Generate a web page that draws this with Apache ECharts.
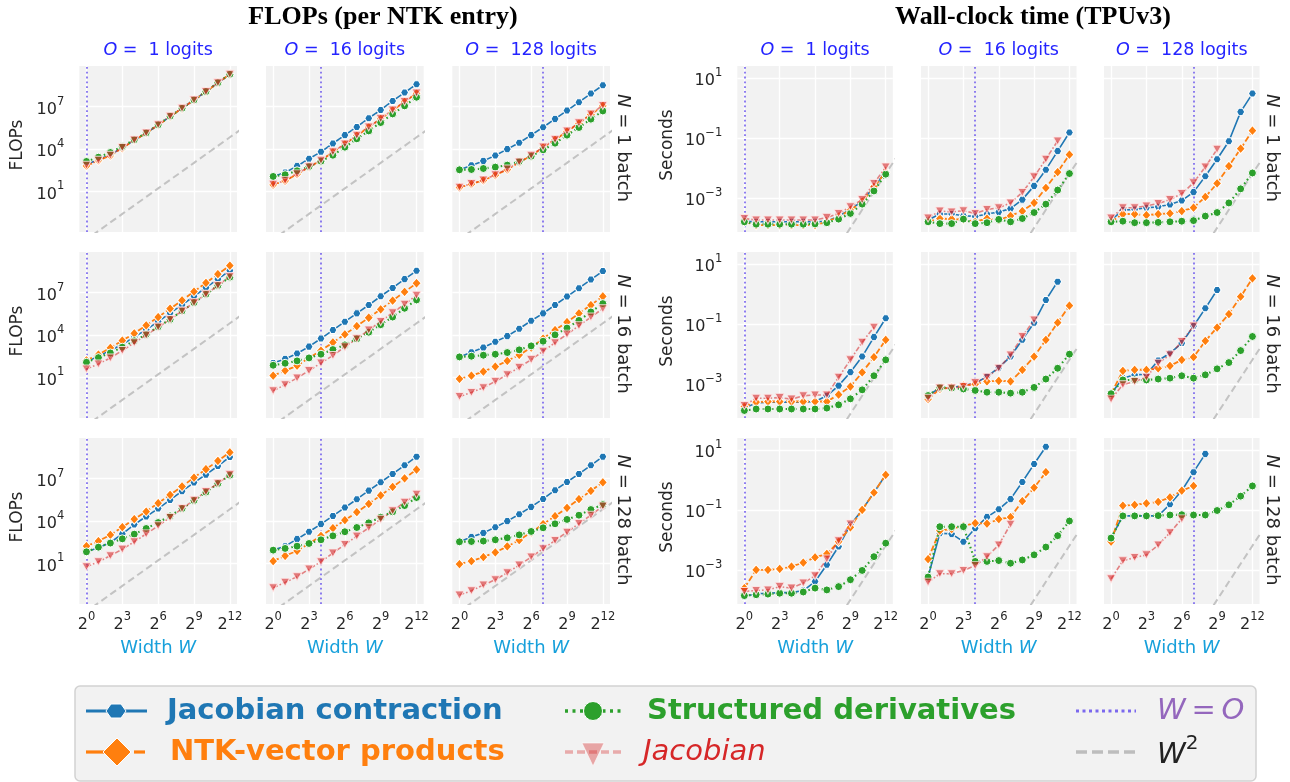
<!DOCTYPE html>
<html><head><meta charset="utf-8">
<script src="https://cdn.jsdelivr.net/npm/echarts@6/dist/echarts.min.js"></script>
<style>html,body{margin:0;padding:0;background:#fff}#c{width:1290px;height:782px}</style>
</head><body><div id="c"></div>
<script>
// ---------------- DATA ----------------
// Width W = 2^k for these exponents
const widthExponents = [0,1,2,3,4,5,6,7,8,9,10,11,12];
const logitCounts = [1, 16, 128];   // O (columns)
const batchSizes = [1, 16, 128];    // N (rows)
const xTickValues = [1, 8, 64, 512, 4096];
const flopsTickValues = [1e1, 1e4, 1e7];
const secondsTickValues = [1e-3, 1e-1, 1e1];
const seriesNames = ['Jacobian contraction', 'NTK-vector products', 'Structured derivatives', 'Jacobian'];

// FLOPs per NTK entry, log10 values
const flops_N1_O1_jacobianContraction   = [2.9, 3.25, 3.6, 4.1, 4.62, 5.13, 5.7, 6.3, 6.88, 7.47, 8.06, 8.69, 9.28];
const flops_N1_O1_ntkVectorProducts     = [2.81, 3.19, 3.54, 4.06, 4.62, 5.12, 5.69, 6.3, 6.87, 7.46, 8.05, 8.68, 9.28];
const flops_N1_O1_structuredDerivatives = [3.12, 3.42, 3.75, 4.18, 4.65, 5.14, 5.71, 6.32, 6.88, 7.47, 8.06, 8.69, 9.28];
const flops_N1_O1_jacobian              = [2.85, 3.2, 3.56, 4.1, 4.63, 5.13, 5.71, 6.32, 6.88, 7.47, 8.06, 8.69, 9.29];

const flops_N1_O16_jacobianContraction   = [2.06, 2.34, 2.79, 3.31, 3.8, 4.39, 4.98, 5.56, 6.18, 6.76, 7.4, 7.99, 8.58];
const flops_N1_O16_ntkVectorProducts     = [1.47, 1.75, 2.22, 2.72, 3.19, 3.78, 4.34, 4.95, 5.54, 6.13, 6.74, 7.33, 7.94];
const flops_N1_O16_structuredDerivatives = [2.06, 2.18, 2.46, 2.76, 3.14, 3.56, 4.13, 4.72, 5.28, 5.87, 6.48, 7.05, 7.66];
const flops_N1_O16_jacobian              = [1.5, 1.78, 2.24, 2.74, 3.2, 3.8, 4.36, 4.97, 5.56, 6.15, 6.76, 7.35, 7.96];

const flops_N1_O128_jacobianContraction   = [2.53, 2.84, 3.16, 3.54, 3.99, 4.44, 4.98, 5.54, 6.13, 6.72, 7.31, 7.92, 8.51];
const flops_N1_O128_ntkVectorProducts     = [1.28, 1.52, 1.78, 2.15, 2.55, 3.05, 3.52, 4.11, 4.65, 5.24, 5.82, 6.44, 7.05];
const flops_N1_O128_structuredDerivatives = [2.53, 2.55, 2.62, 2.72, 2.86, 3.12, 3.49, 3.94, 4.41, 4.98, 5.52, 6.11, 6.69];
const flops_N1_O128_jacobian              = [1.3, 1.55, 1.8, 2.18, 2.58, 3.08, 3.55, 4.14, 4.68, 5.27, 5.85, 6.47, 7.08];

const flops_N16_O1_jacobianContraction   = [2.1, 2.5, 2.9, 3.35, 3.85, 4.38, 4.95, 5.55, 6.13, 6.74, 7.35, 7.95, 8.55];
const flops_N16_O1_ntkVectorProducts     = [2.21, 2.62, 3.09, 3.61, 4.11, 4.68, 5.27, 5.86, 6.45, 7.07, 7.69, 8.3, 8.9];
const flops_N16_O1_structuredDerivatives = [2.07, 2.4, 2.73, 3.14, 3.59, 4.04, 4.58, 5.1, 5.7, 6.29, 6.88, 7.5, 8.09];
const flops_N16_O1_jacobian              = [1.6, 1.95, 2.38, 2.9, 3.45, 3.99, 4.56, 5.1, 5.7, 6.29, 6.88, 7.5, 8.14];

const flops_N16_O16_jacobianContraction   = [2.02, 2.31, 2.69, 3.18, 3.75, 4.35, 4.94, 5.53, 6.12, 6.74, 7.33, 7.95, 8.54];
const flops_N16_O16_ntkVectorProducts     = [1.12, 1.48, 1.83, 2.38, 2.9, 3.47, 4.04, 4.63, 5.22, 5.82, 6.43, 7.05, 7.66];
const flops_N16_O16_structuredDerivatives = [1.86, 2.0, 2.17, 2.38, 2.64, 2.97, 3.3, 3.73, 4.2, 4.73, 5.27, 5.89, 6.48];
const flops_N16_O16_jacobian              = [0.06, 0.48, 0.96, 1.48, 2.02, 2.55, 3.16, 3.73, 4.35, 4.96, 5.58, 6.17, 6.81];

const flops_N16_O128_jacobianContraction   = [2.45, 2.78, 3.11, 3.52, 3.92, 4.44, 5.01, 5.53, 6.12, 6.72, 7.31, 7.92, 8.52];
const flops_N16_O128_ntkVectorProducts     = [0.89, 1.12, 1.41, 1.76, 2.17, 2.59, 3.11, 3.75, 4.35, 4.91, 5.53, 6.12, 6.74];
const flops_N16_O128_structuredDerivatives = [2.45, 2.5, 2.57, 2.64, 2.76, 2.95, 3.23, 3.56, 4.01, 4.49, 5.03, 5.63, 6.22];
const flops_N16_O128_jacobian              = [-0.35, -0.06, 0.27, 0.72, 1.19, 1.71, 2.26, 2.85, 3.45, 4.06, 4.65, 5.27, 5.86];

const flops_N128_O1_jacobianContraction   = [1.82, 2.11, 2.48, 3.09, 3.75, 4.32, 4.88, 5.49, 6.11, 6.72, 7.28, 7.89, 8.53];
const flops_N128_O1_ntkVectorProducts     = [2.22, 2.58, 3.02, 3.56, 4.13, 4.67, 5.26, 5.85, 6.44, 7.07, 7.66, 8.25, 8.86];
const flops_N128_O1_structuredDerivatives = [1.82, 2.15, 2.44, 2.74, 3.07, 3.47, 3.89, 4.36, 4.88, 5.45, 6.04, 6.65, 7.24];
const flops_N128_O1_jacobian              = [0.76, 1.12, 1.54, 2.01, 2.53, 3.09, 3.66, 4.25, 4.88, 5.47, 6.08, 6.67, 7.28];

const flops_N128_O16_jacobianContraction   = [1.94, 2.22, 2.72, 3.24, 3.78, 4.36, 4.95, 5.54, 6.15, 6.74, 7.33, 7.94, 8.55];
const flops_N128_O16_ntkVectorProducts     = [1.16, 1.54, 1.89, 2.41, 2.95, 3.49, 4.06, 4.62, 5.21, 5.82, 6.41, 7.02, 7.64];
const flops_N128_O16_structuredDerivatives = [1.94, 2.06, 2.22, 2.41, 2.67, 2.95, 3.24, 3.54, 3.87, 4.27, 4.65, 5.09, 5.66];
const flops_N128_O16_jacobian              = [-0.72, -0.34, 0.06, 0.6, 1.12, 1.73, 2.34, 2.93, 3.52, 4.13, 4.72, 5.33, 5.89];

const flops_N128_O128_jacobianContraction   = [2.53, 2.86, 3.16, 3.56, 3.99, 4.48, 5.0, 5.56, 6.18, 6.76, 7.33, 7.94, 8.55];
const flops_N128_O128_ntkVectorProducts     = [0.95, 1.16, 1.45, 1.78, 2.2, 2.65, 3.19, 3.78, 4.34, 4.93, 5.54, 6.13, 6.74];
const flops_N128_O128_structuredDerivatives = [2.53, 2.55, 2.58, 2.67, 2.81, 3.02, 3.26, 3.52, 3.8, 4.11, 4.41, 4.81, 5.16];
const flops_N128_O128_jacobian              = [-1.24, -0.93, -0.53, -0.15, 0.34, 0.88, 1.45, 2.04, 2.62, 3.21, 3.82, 4.41, 5.05];

// Wall-clock seconds (TPUv3), log10 values; shorter arrays = runs that stopped early
const secs_N1_O1_jacobianContraction   = [-3.78, -3.8, -3.8, -3.8, -3.8, -3.8, -3.8, -3.78, -3.61, -3.39, -3.11, -2.63, -2.13];
const secs_N1_O1_ntkVectorProducts     = [-3.8, -3.91, -3.91, -3.91, -3.91, -3.91, -3.91, -3.8, -3.63, -3.41, -3.13, -2.63, -2.15];
const secs_N1_O1_structuredDerivatives = [-3.8, -3.88, -3.88, -3.88, -3.88, -3.88, -3.87, -3.83, -3.71, -3.52, -3.21, -2.77, -2.21];
const secs_N1_O1_jacobian              = [-3.69, -3.74, -3.74, -3.74, -3.74, -3.74, -3.74, -3.66, -3.52, -3.3, -3.06, -2.52, -1.97];

const secs_N1_O16_jacobianContraction   = [-3.74, -3.54, -3.54, -3.6, -3.62, -3.54, -3.47, -3.36, -3.06, -2.6, -2.06, -1.44, -0.82];
const secs_N1_O16_ntkVectorProducts     = [-3.8, -3.69, -3.71, -3.72, -3.8, -3.69, -3.74, -3.6, -3.44, -3.17, -2.67, -2.14, -1.56];
const secs_N1_O16_structuredDerivatives = [-3.8, -3.86, -3.86, -3.71, -3.86, -3.83, -3.72, -3.8, -3.69, -3.49, -3.21, -2.74, -2.19];
const secs_N1_O16_jacobian              = [-3.67, -3.44, -3.47, -3.43, -3.52, -3.39, -3.33, -3.17, -2.82, -2.3, -1.71, -1.1];

const secs_N1_O128_jacobianContraction   = [-3.74, -3.41, -3.39, -3.33, -3.3, -3.22, -3.09, -2.81, -2.28, -1.71, -1.11, -0.13, 0.48];
const secs_N1_O128_ntkVectorProducts     = [-3.8, -3.54, -3.54, -3.58, -3.54, -3.52, -3.44, -3.33, -2.97, -2.52, -1.94, -1.36, -0.76];
const secs_N1_O128_structuredDerivatives = [-3.8, -3.78, -3.83, -3.83, -3.82, -3.8, -3.78, -3.76, -3.61, -3.49, -3.17, -2.7, -2.17];
const secs_N1_O128_jacobian              = [-3.67, -3.33, -3.33, -3.27, -3.19, -3.06, -2.86, -2.5, -1.97, -1.38];

const secs_N16_O1_jacobianContraction   = [-3.81, -3.64, -3.61, -3.61, -3.61, -3.61, -3.59, -3.4, -3.06, -2.61, -2.09, -1.44, -0.81];
const secs_N16_O1_ntkVectorProducts     = [-3.76, -3.61, -3.59, -3.59, -3.59, -3.59, -3.59, -3.59, -3.36, -3.09, -2.62, -2.11, -1.53];
const secs_N16_O1_structuredDerivatives = [-3.89, -3.84, -3.84, -3.84, -3.84, -3.84, -3.84, -3.81, -3.7, -3.5, -3.2, -2.73, -2.2];
const secs_N16_O1_jacobian              = [-3.72, -3.48, -3.48, -3.46, -3.51, -3.4, -3.37, -3.37, -2.78, -2.2, -1.61, -1.11];

const secs_N16_O16_jacobianContraction   = [-3.39, -3.14, -3.12, -3.06, -2.98, -2.76, -2.46, -2.09, -1.53, -0.96, -0.2, 0.41];
const secs_N16_O16_ntkVectorProducts     = [-3.51, -3.17, -3.12, -3.06, -3.01, -2.92, -2.9, -2.92, -2.53, -2.09, -1.53, -0.96, -0.39];
const secs_N16_O16_structuredDerivatives = [-3.39, -3.12, -3.14, -3.17, -3.22, -3.28, -3.28, -3.31, -3.28, -3.12, -2.84, -2.48, -2.01];
const secs_N16_O16_jacobian              = [-3.48, -3.14, -3.14, -3.09, -2.96, -2.78, -2.48, -2.04, -1.42, -0.87];

const secs_N16_O128_jacobianContraction   = [-3.33, -2.81, -2.7, -2.68, -2.22, -1.98, -1.64, -1.07, -0.48, 0.13];
const secs_N16_O128_ntkVectorProducts     = [-3.33, -2.57, -2.53, -2.53, -2.48, -2.4, -2.2, -2.11, -1.57, -1.12, -0.67, -0.09, 0.52];
const secs_N16_O128_structuredDerivatives = [-3.33, -2.87, -2.87, -2.87, -2.84, -2.81, -2.73, -2.81, -2.7, -2.5, -2.29, -1.89, -1.42];
const secs_N16_O128_jacobian              = [-3.51, -3.03, -2.92, -2.78, -2.31, -2.03, -1.59, -1.07];

const secs_N128_O1_jacobianContraction   = [-3.89, -3.8, -3.78, -3.76, -3.76, -3.69, -3.39, -2.83, -2.22, -1.5, -1.0, -0.42, 0.17];
const secs_N128_O1_ntkVectorProducts     = [-3.61, -3.0, -3.0, -2.97, -2.89, -2.76, -2.58, -2.47, -2.06, -1.58, -1.0, -0.42, 0.17];
const secs_N128_O1_structuredDerivatives = [-3.86, -3.83, -3.81, -3.78, -3.78, -3.74, -3.61, -3.67, -3.56, -3.33, -3.02, -2.56, -2.11];
const secs_N128_O1_jacobian              = [-3.72, -3.69, -3.67, -3.56, -3.61, -3.44, -3.2, -2.64, -2.03, -1.47];

const secs_N128_O16_jacobianContraction   = [-3.24, -1.78, -1.8, -2.06, -1.61, -1.24, -0.98, -0.64, -0.07, 0.53, 1.11];
const secs_N128_O16_ntkVectorProducts     = [-2.64, -1.69, -1.64, -1.53, -1.44, -1.46, -1.31, -1.24, -0.71, -0.26, 0.26];
const secs_N128_O16_structuredDerivatives = [-3.24, -1.56, -1.56, -1.56, -2.72, -2.72, -2.69, -2.78, -2.67, -2.5, -2.24, -1.86, -1.37];
const secs_N128_O16_jacobian              = [-3.41, -3.13, -3.13, -3.02, -2.86, -2.56, -2.17, -1.48];

const secs_N128_O128_jacobianContraction   = [-1.94, -1.2, -1.2, -1.2, -1.2, -0.81, -0.36, 0.26, 0.87];
const secs_N128_O128_ntkVectorProducts     = [-2.06, -0.86, -0.83, -0.78, -0.73, -0.58, -0.36, -0.2];
const secs_N128_O128_structuredDerivatives = [-1.94, -1.2, -1.2, -1.2, -1.19, -1.17, -1.16, -1.17, -1.17, -1.02, -0.83, -0.54, -0.2];
const secs_N128_O128_jacobian              = [-3.3, -2.7, -2.59, -2.5, -2.17, -1.76, -1.3];

// W^2 reference line scale factors (per metric) and exponents over which it is drawn
const refLineExponents = [-1,0,1,2,3,4,5,6,7,8,9,10,11,12,13];
const flopsRefScale = 0.004;
const secsRefScale = 3.8e-10;

// ---------------- TABLES ----------------
const flopsTable = [
  [[flops_N1_O1_jacobianContraction, flops_N1_O1_ntkVectorProducts, flops_N1_O1_structuredDerivatives, flops_N1_O1_jacobian],
   [flops_N1_O16_jacobianContraction, flops_N1_O16_ntkVectorProducts, flops_N1_O16_structuredDerivatives, flops_N1_O16_jacobian],
   [flops_N1_O128_jacobianContraction, flops_N1_O128_ntkVectorProducts, flops_N1_O128_structuredDerivatives, flops_N1_O128_jacobian]],
  [[flops_N16_O1_jacobianContraction, flops_N16_O1_ntkVectorProducts, flops_N16_O1_structuredDerivatives, flops_N16_O1_jacobian],
   [flops_N16_O16_jacobianContraction, flops_N16_O16_ntkVectorProducts, flops_N16_O16_structuredDerivatives, flops_N16_O16_jacobian],
   [flops_N16_O128_jacobianContraction, flops_N16_O128_ntkVectorProducts, flops_N16_O128_structuredDerivatives, flops_N16_O128_jacobian]],
  [[flops_N128_O1_jacobianContraction, flops_N128_O1_ntkVectorProducts, flops_N128_O1_structuredDerivatives, flops_N128_O1_jacobian],
   [flops_N128_O16_jacobianContraction, flops_N128_O16_ntkVectorProducts, flops_N128_O16_structuredDerivatives, flops_N128_O16_jacobian],
   [flops_N128_O128_jacobianContraction, flops_N128_O128_ntkVectorProducts, flops_N128_O128_structuredDerivatives, flops_N128_O128_jacobian]]
];
const secsTable = [
  [[secs_N1_O1_jacobianContraction, secs_N1_O1_ntkVectorProducts, secs_N1_O1_structuredDerivatives, secs_N1_O1_jacobian],
   [secs_N1_O16_jacobianContraction, secs_N1_O16_ntkVectorProducts, secs_N1_O16_structuredDerivatives, secs_N1_O16_jacobian],
   [secs_N1_O128_jacobianContraction, secs_N1_O128_ntkVectorProducts, secs_N1_O128_structuredDerivatives, secs_N1_O128_jacobian]],
  [[secs_N16_O1_jacobianContraction, secs_N16_O1_ntkVectorProducts, secs_N16_O1_structuredDerivatives, secs_N16_O1_jacobian],
   [secs_N16_O16_jacobianContraction, secs_N16_O16_ntkVectorProducts, secs_N16_O16_structuredDerivatives, secs_N16_O16_jacobian],
   [secs_N16_O128_jacobianContraction, secs_N16_O128_ntkVectorProducts, secs_N16_O128_structuredDerivatives, secs_N16_O128_jacobian]],
  [[secs_N128_O1_jacobianContraction, secs_N128_O1_ntkVectorProducts, secs_N128_O1_structuredDerivatives, secs_N128_O1_jacobian],
   [secs_N128_O16_jacobianContraction, secs_N128_O16_ntkVectorProducts, secs_N128_O16_structuredDerivatives, secs_N128_O16_jacobian],
   [secs_N128_O128_jacobianContraction, secs_N128_O128_ntkVectorProducts, secs_N128_O128_structuredDerivatives, secs_N128_O128_jacobian]]
];

// ---------------- LAYOUT / STYLE ----------------
const FONT = '"DejaVu Sans", Verdana, sans-serif';
const TXT = '#262626';
const groups = [
  {key:'flops', table: flopsTable, left:[79.3, 266, 452.3], width:157.7, ymin:Math.pow(10,-1.87), ymax:Math.pow(10,9.87), ticks: flopsTickValues, refScale: flopsRefScale, yName:'FLOPs', yNameX:18, rowLabelX:623, title:'FLOPs (per NTK entry)', titleX:383},
  {key:'secs', table: secsTable, left:[737.3, 921, 1104], width:155.5, ymin:Math.pow(10,-4.14), ymax:Math.pow(10,1.4), ticks: secondsTickValues, refScale: secsRefScale, yName:'Seconds', yNameX:668, rowLabelX:1272, title:'Wall-clock time (TPUv3)', titleX:1033}
];
const rowTop = [66, 252, 438];
const rowHeight = 166;
const xMin = Math.pow(2,-0.6), xMax = Math.pow(2,12.6);

const hexPath = 'path://M-10,0 L-5,-8.66 L5,-8.66 L10,0 L5,8.66 L-5,8.66 Z';
const seriesStyles = [
  {color:'#1f77b4', symbol:hexPath, size:[8,7], lineType:'solid', width:1.6, fill:'#1f77b4', border:'#ffffff', z:3},
  {color:'#ff7f0e', symbol:'diamond', size:[9,10], lineType:[6,2.5], width:1.8, fill:'#ff7f0e', border:'#ffffff', z:4},
  {color:'#2ca02c', symbol:'circle', size:8, lineType:[1.6,3], width:2.1, fill:'#2ca02c', border:'#ffffff', z:5},
  {color:'rgba(214,39,40,0.55)', symbol:'triangle', size:[9,8], rotate:180, lineType:[5,2,1.6,2], width:1.6, fill:'rgba(214,39,40,0.6)', border:'rgba(255,235,235,0.85)', z:6}
];

const supRich = {
  b: {fontSize:16, fontFamily:FONT, color:TXT, lineHeight:22, verticalAlign:'bottom'},
  s: {fontSize:11.5, fontFamily:FONT, color:TXT, lineHeight:13, verticalAlign:'top'}
};
function fmtPow2(v){ const e = Math.round(Math.log2(v)); return '{b|2}{s|' + e + '}'; }
function fmtPow10(v){ const e = Math.round(Math.log10(v)); return '{b|10}{s|' + (e < 0 ? '\u2212' + (-e) : e) + '}'; }
function toPoints(logVals){ return logVals.map((lv,i) => [Math.pow(2, widthExponents[i]), Math.pow(10, lv)]); }

const grids = [], xAxes = [], yAxes = [], series = [], graphics = [];
let k = 0;
groups.forEach((g) => {
  for (let r = 0; r < 3; r++) {
    for (let c = 0; c < 3; c++) {
      grids.push({left:g.left[c], top:rowTop[r], width:g.width, height:rowHeight, show:true, backgroundColor:'#f2f2f2', borderWidth:0, containLabel:false, outerBoundsMode:'none'});
      const bottom = (r === 2), first = (c === 0);
      xAxes.push({type:'log', logBase:2, gridIndex:k, min:xMin, max:xMax,
        axisLine:{show:false}, axisTick:{show:false, customValues:xTickValues},
        axisLabel:{show:bottom, customValues:xTickValues, formatter:fmtPow2, rich:supRich, margin:7},
        splitLine:{show:true, lineStyle:{color:'#ffffff', width:1.4}}});
      yAxes.push({type:'log', logBase:10, gridIndex:k, min:g.ymin, max:g.ymax,
        axisLine:{show:false}, axisTick:{show:false, customValues:g.ticks},
        axisLabel:{show:first, customValues:g.ticks, formatter:fmtPow10, rich:supRich, margin:15},
        splitLine:{show:true, lineStyle:{color:'#ffffff', width:1.4}}});
      // W^2 reference + W = O marker line
      series.push({type:'line', name:'W^2', xAxisIndex:k, yAxisIndex:k, silent:true, animation:false, symbol:'none', z:1,
        data: refLineExponents.map(e => [Math.pow(2,e), g.refScale*Math.pow(2,2*e)]),
        lineStyle:{color:'#c3c3c3', width:2, type:[7,4]},
        markLine:{silent:true, animation:false, symbol:['none','none'], label:{show:false}, z:2,
          lineStyle:{color:'#7b68ee', width:1.7, type:[1.8,3]}, data:[{xAxis:logitCounts[c]}]}});
      const arrs = g.table[r][c];
      arrs.forEach((arr, si) => {
        const st = seriesStyles[si];
        series.push({type:'line', name:seriesNames[si], xAxisIndex:k, yAxisIndex:k, silent:true, animation:false, z:st.z,
          data: toPoints(arr), symbol:st.symbol, symbolSize:st.size, symbolRotate:st.rotate || 0, showAllSymbol:true,
          lineStyle:{color:st.color, width:st.width, type:st.lineType},
          itemStyle:{color:st.fill, borderColor:st.border, borderWidth:1}});
      });
      // Column title
      if (r === 0) {
        graphics.push({type:'text', x:g.left[c] + g.width/2, y:50, silent:true, style:{
          text:'{i|O}{n| =  ' + logitCounts[c] + ' logits}', align:'center', verticalAlign:'middle',
          rich:{i:{fontSize:17.5, fontFamily:FONT, fontStyle:'italic', fill:'#2424ff'}, n:{fontSize:17.5, fontFamily:FONT, fill:'#2424ff'}}}});
      }
      // X axis name
      if (bottom) {
        graphics.push({type:'text', x:g.left[c] + g.width/2, y:648, silent:true, style:{
          text:'{n|Width }{i|W}', align:'center', verticalAlign:'middle',
          rich:{i:{fontSize:18, fontFamily:FONT, fontStyle:'italic', fill:'#17a0db'}, n:{fontSize:18, fontFamily:FONT, fill:'#17a0db'}}}});
      }
      k++;
    }
    // Y axis name
    graphics.push({type:'text', x:g.yNameX, y:rowTop[r] + rowHeight/2 - 4, rotation:Math.PI/2, silent:true, style:{
      text:g.yName, align:'center', verticalAlign:'middle', font:'17px ' + FONT, fill:TXT}});
    // Row label
    graphics.push({type:'text', x:g.rowLabelX, y:rowTop[r] + 82, rotation:-Math.PI/2, silent:true, style:{
      text:'{i|N}{n| = ' + batchSizes[r] + ' batch}', align:'center', verticalAlign:'middle',
      rich:{i:{fontSize:18, fontFamily:FONT, fontStyle:'italic', fill:TXT}, n:{fontSize:18, fontFamily:FONT, fill:TXT}}}});
  }
  graphics.push({type:'text', x:g.titleX, y:17, silent:true, style:{
    text:g.title, align:'center', verticalAlign:'middle', font:'bold 26px "Liberation Serif", "Times New Roman", serif', fill:'#000'}});
});

// ---------------- LEGEND (drawn) ----------------
const L1 = 711, L2 = 752;
const legendFont = (w, style) => (style || '') + ' ' + (w || '') + ' 29px ' + FONT;
graphics.push({type:'rect', silent:true, shape:{x:75, y:686, width:1181, height:95, r:5}, style:{fill:'#f2f2f2', stroke:'#d2d2d2', lineWidth:1.5}, z:0});
// Jacobian contraction
graphics.push({type:'line', silent:true, shape:{x1:86, y1:L1, x2:147, y2:L1}, style:{stroke:'#1f77b4', lineWidth:3.2}});
graphics.push({type:'polygon', silent:true, shape:{points:[[106,L1],[111,L1-7],[121,L1-7],[126,L1],[121,L1+7],[111,L1+7]]}, style:{fill:'#1f77b4', stroke:'#ffffff', lineWidth:1}});
graphics.push({type:'text', silent:true, x:167, y:L1, style:{text:'Jacobian contraction', font:legendFont('bold'), fill:'#1f77b4', verticalAlign:'middle'}});
// NTK-vector products
graphics.push({type:'line', silent:true, shape:{x1:86, y1:L2, x2:106, y2:L2}, style:{stroke:'#ff7f0e', lineWidth:3.2}});
graphics.push({type:'line', silent:true, shape:{x1:134, y1:L2, x2:145, y2:L2}, style:{stroke:'#ff7f0e', lineWidth:3.2}});
graphics.push({type:'polygon', silent:true, shape:{points:[[117,L2-14],[131,L2],[117,L2+14],[103,L2]]}, style:{fill:'#ff7f0e', stroke:'#ffffff', lineWidth:1}});
graphics.push({type:'text', silent:true, x:170, y:L2, style:{text:'NTK-vector products', font:legendFont('bold'), fill:'#ff7f0e', verticalAlign:'middle'}});
// Structured derivatives
graphics.push({type:'line', silent:true, shape:{x1:565, y1:L1, x2:621, y2:L1}, style:{stroke:'#2ca02c', lineWidth:3.5, lineDash:[3,4.5]}});
graphics.push({type:'circle', silent:true, shape:{cx:593, cy:L1, r:9.5}, style:{fill:'#2ca02c', stroke:'#ffffff', lineWidth:1}});
graphics.push({type:'text', silent:true, x:647, y:L1, style:{text:'Structured derivatives', font:legendFont('bold'), fill:'#2ca02c', verticalAlign:'middle'}});
// Jacobian
graphics.push({type:'line', silent:true, shape:{x1:565, y1:L2, x2:621, y2:L2}, style:{stroke:'rgba(214,39,40,0.35)', lineWidth:3.5, lineDash:[8,4]}});
graphics.push({type:'polygon', silent:true, shape:{points:[[582,L2-9],[604,L2-9],[593,L2+14]]}, style:{fill:'rgba(214,39,40,0.38)', stroke:'rgba(255,255,255,0.6)', lineWidth:1}});
graphics.push({type:'text', silent:true, x:643, y:L2, style:{text:'Jacobian', font:legendFont('', 'italic'), fill:'#d62728', verticalAlign:'middle'}});
// W = O
graphics.push({type:'line', silent:true, shape:{x1:1076, y1:L1, x2:1136, y2:L1}, style:{stroke:'#7b68ee', lineWidth:3.2, lineDash:[3,3.5]}});
graphics.push({type:'text', silent:true, x:1157, y:L1, style:{text:'{i|W}{n|\u2009=\u2009}{i|O}', verticalAlign:'middle',
  rich:{i:{fontSize:29, fontFamily:FONT, fontStyle:'italic', fill:'#9467bd'}, n:{fontSize:29, fontFamily:FONT, fill:'#9467bd'}}}});
// W^2
graphics.push({type:'line', silent:true, shape:{x1:1076, y1:L2, x2:1136, y2:L2}, style:{stroke:'#bdbdbd', lineWidth:3.5, lineDash:[11,5]}});
graphics.push({type:'text', silent:true, x:1157, y:L2, style:{text:'{i|W}{s|2}', verticalAlign:'middle',
  rich:{i:{fontSize:29, fontFamily:FONT, fontStyle:'italic', fill:'#222222', lineHeight:36, verticalAlign:'bottom'},
        s:{fontSize:20, fontFamily:FONT, fill:'#222222', lineHeight:22, verticalAlign:'top'}}}});

const chart = echarts.init(document.getElementById('c'), null, {renderer:'canvas', width:1290, height:782});
chart.setOption({
  animation:false,
  backgroundColor:'#ffffff',
  grid: grids, xAxis: xAxes, yAxis: yAxes, series: series,
  graphic: {elements: graphics}
});
</script>
</body></html>
